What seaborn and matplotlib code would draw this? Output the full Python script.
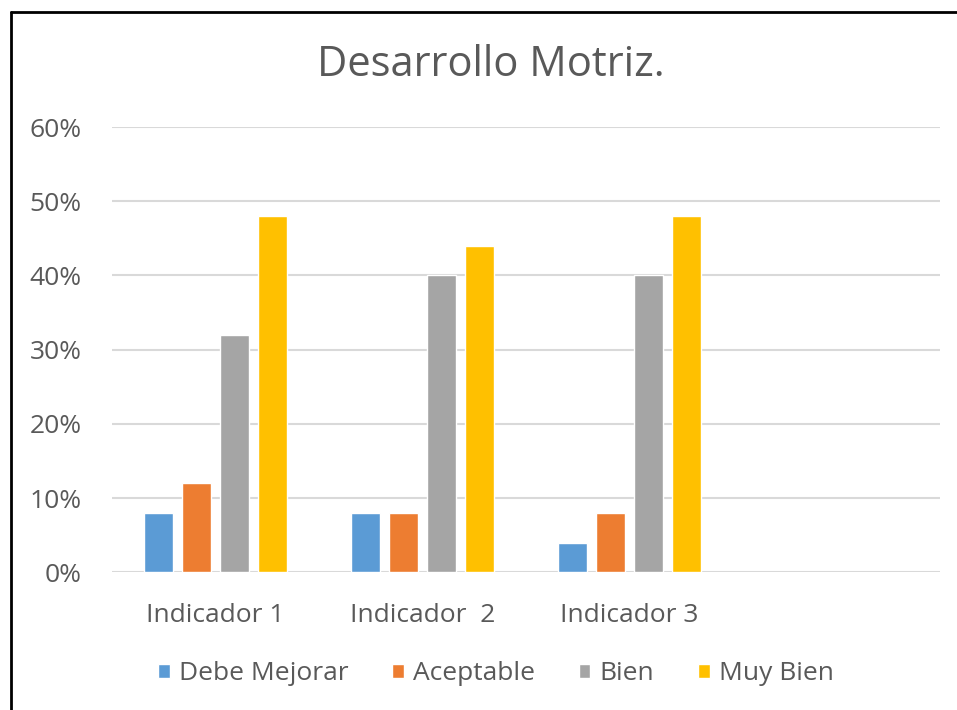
import pandas as pd
import numpy as np
import seaborn as sns
import matplotlib.pyplot as plt
from matplotlib.ticker import PercentFormatter

# Data
indicadores = ['Indicador 1', 'Indicador  2', 'Indicador 3', '']
niveles = ['Debe Mejorar', 'Aceptable', 'Bien', 'Muy Bien']
debe_mejorar = [0.08, 0.08, 0.04, np.nan]
aceptable = [0.12, 0.08, 0.08, np.nan]
bien = [0.32, 0.40, 0.40, np.nan]
muy_bien = [0.48, 0.44, 0.48, np.nan]
colores = ['#5B9BD5', '#ED7D31', '#A5A5A5', '#FFC000']

df = pd.DataFrame({'Indicador': indicadores,
                   'Debe Mejorar': debe_mejorar,
                   'Aceptable': aceptable,
                   'Bien': bien,
                   'Muy Bien': muy_bien})
long_df = df.melt(id_vars='Indicador', var_name='Nivel', value_name='Valor')

sns.set_theme(style='white')
plt.rcParams['font.family'] = ['Open Sans', 'DejaVu Sans']
text_color = '#595959'
fs = 19

fig = plt.figure(figsize=(9.57, 7.10), dpi=100)
ax = fig.add_axes([0.117, 0.194, 0.865, 0.627])

sns.barplot(data=long_df, x='Indicador', y='Valor', hue='Nivel',
            order=indicadores, hue_order=niveles, palette=colores,
            width=0.734, gap=0.24, ax=ax, saturation=1, legend=True)

ax.set_ylim(0, 0.6)
ax.set_xlim(-0.5, 3.5)
ax.set_yticks(np.arange(0, 0.61, 0.1))
ax.yaxis.set_major_formatter(PercentFormatter(1.0, decimals=0))
ax.grid(axis='y', color='#D9D9D9', linewidth=1.5)
ax.set_axisbelow(True)
for s in ax.spines.values():
    s.set_visible(False)
ax.set_xlabel('')
ax.set_ylabel('')
ax.tick_params(axis='x', length=0, labelsize=fs, colors=text_color, pad=22)
ax.tick_params(axis='y', length=0, labelsize=fs, colors=text_color, pad=22)

fig.text(0.513, 0.908, 'Desarrollo Motriz.', ha='center', va='center',
         fontsize=30, color=text_color)

handles, labels = ax.get_legend_handles_labels()
ax.get_legend().remove()
fig.legend(handles, labels, loc='center', bbox_to_anchor=(0.518, 0.051),
           ncol=4, frameon=False, fontsize=fs, labelcolor=text_color,
           handlelength=0.45, handleheight=0.45, handletextpad=0.35,
           columnspacing=1.65)

# outer chart border (top and left edges visible)
fig.add_artist(plt.Line2D([0.011, 0.011], [0, 0.983], color='black', lw=2,
                          transform=fig.transFigure))
fig.add_artist(plt.Line2D([0.011, 1.0], [0.983, 0.983], color='black', lw=2,
                          transform=fig.transFigure))

fig.savefig('out.png', dpi=100)
